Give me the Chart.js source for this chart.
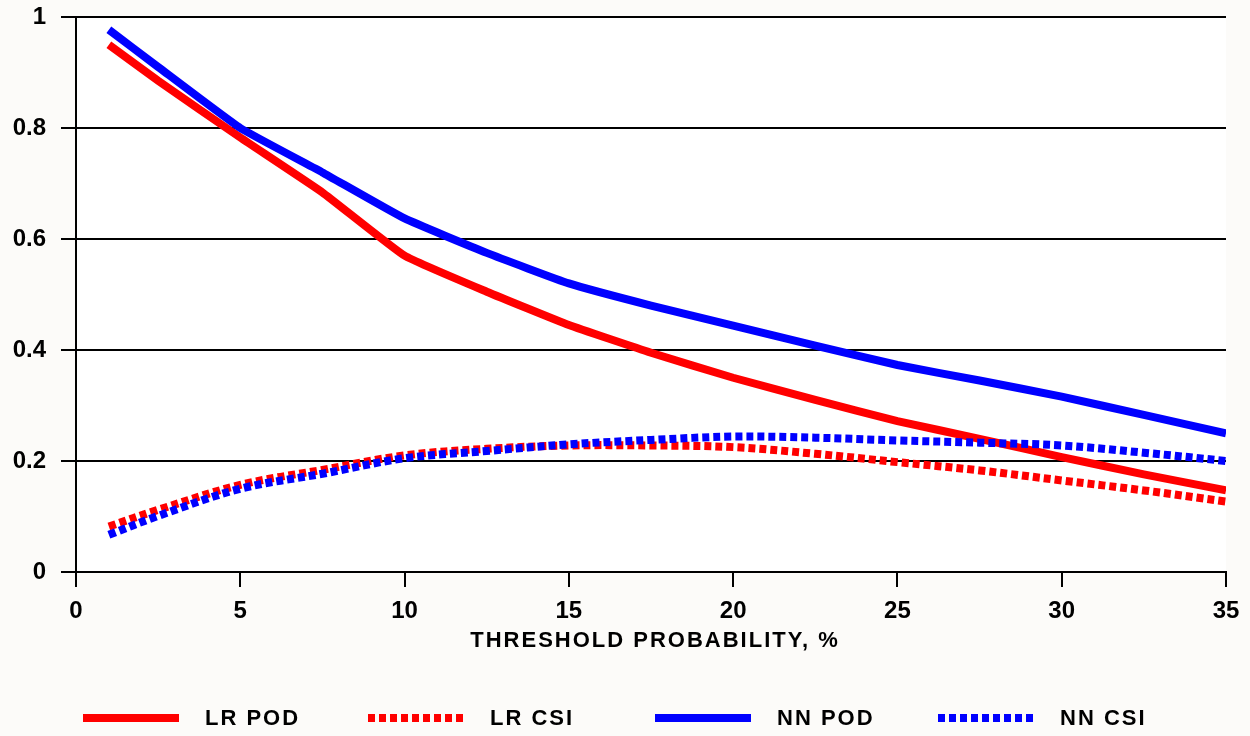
<!DOCTYPE html>
<html>
<head>
<meta charset="utf-8">
<script src="https://cdn.jsdelivr.net/npm/chart.js@4"></script>
<style>
  html, body { margin: 0; padding: 0; background: #fcfbf9; }
  canvas { display: block; }
</style>
</head>
<body>
<canvas id="thresholdChart" width="1250" height="736"></canvas>
<script>
const thresholds = [1, 2.5, 5, 7.5, 10, 12.5, 15, 17.5, 20, 22.5, 25, 27.5, 30, 32.5, 35]

const lrPod = [0.95, 0.885, 0.783, 0.684, 0.57, 0.505, 0.445, 0.395, 0.35, 0.31, 0.272, 0.24, 0.207, 0.176, 0.147]
const lrCsi = [0.082, 0.112, 0.157, 0.184, 0.21, 0.222, 0.228, 0.228, 0.225, 0.213, 0.198, 0.183, 0.165, 0.147, 0.127]
const nnPod = [0.977, 0.91, 0.80, 0.72, 0.637, 0.575, 0.52, 0.48, 0.444, 0.408, 0.373, 0.345, 0.316, 0.283, 0.25]
const nnCsi = [0.067, 0.101, 0.15, 0.177, 0.205, 0.218, 0.23, 0.238, 0.244, 0.242, 0.237, 0.233, 0.228, 0.215, 0.2]

const xTicks = [0, 5, 10, 15, 20, 25, 30, 35]
const yTicks = [0, 0.2, 0.4, 0.6, 0.8, 1]
const xTitle = "THRESHOLD PROBABILITY, %"

const RED = "#ff0000"
const BLUE = "#0000ff"
const DOTS = [7, 4]
const FONT = "'Liberation Sans', Arial, sans-serif"

const toPoints = (values) => values.map((v, i) => ({ x: thresholds[i], y: v }))

const series = [
  { label: "LR POD", data: lrPod, color: RED, dash: [], order: 4, tension: 0.12 },
  { label: "LR CSI", data: lrCsi, color: RED, dash: DOTS, order: 2, tension: 0.35 },
  { label: "NN POD", data: nnPod, color: BLUE, dash: [], order: 3, tension: 0.12 },
  { label: "NN CSI", data: nnCsi, color: BLUE, dash: DOTS, order: 1, tension: 0.35 },
]

// off-white page, white plot area
const backdrop = {
  id: "backdrop",
  beforeDraw(chart) {
    const { ctx, chartArea: a } = chart
    ctx.save()
    ctx.fillStyle = "#fcfbf9"
    ctx.fillRect(0, 0, chart.width, chart.height)
    ctx.fillStyle = "#ffffff"
    ctx.fillRect(a.left, a.top, a.right - a.left, a.bottom - a.top)
    ctx.restore()
  },
}

// axis title + legend row along the bottom
const bottomText = {
  id: "bottomText",
  afterDraw(chart) {
    const { ctx, chartArea: a } = chart
    ctx.save()
    ctx.fillStyle = "#000"
    ctx.textBaseline = "middle"

    ctx.font = `bold 22px ${FONT}`
    ctx.letterSpacing = "2px"
    ctx.textAlign = "center"
    ctx.fillText(xTitle, (a.left + a.right) / 2 + 4, 641)

    ctx.textAlign = "left"
    const starts = [83, 368, 655, 938]
    const y = 718
    series.forEach((s, i) => {
      const x = starts[i]
      ctx.strokeStyle = s.color
      ctx.lineWidth = 8
      ctx.setLineDash(s.dash)
      ctx.beginPath()
      ctx.moveTo(x, y)
      ctx.lineTo(x + 96, y)
      ctx.stroke()
      ctx.setLineDash([])
      ctx.fillText(s.label, x + 122, y + 1)
    })
    ctx.restore()
  },
}

const tickFont = { family: FONT, size: 24, weight: "bold", lineHeight: 1 }

const chartConfig = {
  type: "line",
  data: {
    datasets: series.map((s) => ({
      label: s.label,
      data: toPoints(s.data),
      borderColor: s.color,
      backgroundColor: s.color,
      borderWidth: 8,
      borderDash: s.dash,
      borderCapStyle: "butt",
      pointRadius: 0,
      tension: s.tension,
      fill: false,
      order: s.order,
    })),
  },
  options: {
    responsive: false,
    animation: false,
    layout: { padding: { top: 17, right: 24, left: 0, bottom: 0 } },
    scales: {
      x: {
        type: "linear",
        min: 0,
        max: 35,
        afterBuildTicks: (scale) => { scale.ticks = xTicks.map((v) => ({ value: v })) },
        afterFit: (scale) => {
          scale.height = 164
          scale.paddingLeft = 0
          scale.paddingRight = 0
        },
        border: { display: true, color: "#000", width: 2 },
        grid: { drawOnChartArea: false, drawTicks: true, tickLength: 15, color: "#000", lineWidth: 2 },
        ticks: { color: "#000", font: tickFont, padding: 12, maxRotation: 0 },
      },
      y: {
        min: 0,
        max: 1,
        afterBuildTicks: (scale) => { scale.ticks = yTicks.map((v) => ({ value: v })) },
        afterFit: (scale) => {
          scale.width = 76
          scale.paddingTop = 0
          scale.paddingBottom = 0
        },
        border: { display: true, color: "#000", width: 2 },
        grid: { color: "#000", lineWidth: 2, tickLength: 15 },
        ticks: {
          color: "#000",
          font: tickFont,
          padding: 15,
          callback: (v) => String(Math.round(v * 10) / 10),
        },
      },
    },
    plugins: {
      legend: { display: false },
      tooltip: { enabled: false },
    },
  },
  plugins: [backdrop, bottomText],
}

new Chart(document.getElementById("thresholdChart"), chartConfig)
</script>
</body>
</html>
